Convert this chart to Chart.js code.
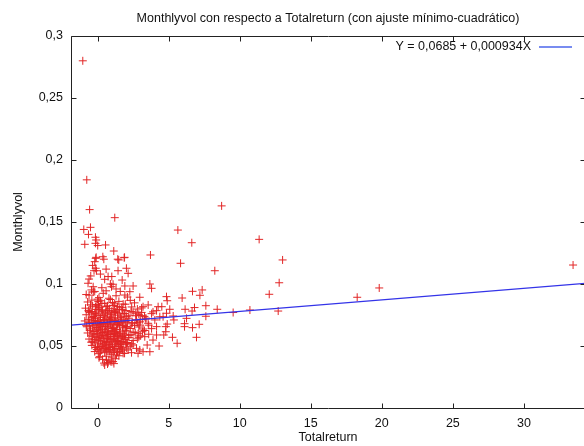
<!DOCTYPE html>
<html>
<head>
<meta charset="utf-8">
<script src="https://cdn.jsdelivr.net/npm/chart.js@4/dist/chart.umd.min.js"></script>
<style>
  html, body { margin: 0; padding: 0; background: #fff; overflow: hidden; }
  #wrap { width: 590px; height: 446px; }
</style>
</head>
<body>
<div id="wrap"><canvas id="chart" width="590" height="446"></canvas></div>
<script>
// Valores: Totalreturn (x) y Monthlyvol (y)
const totalreturn = [
  // puntos aislados
  -1.04, -0.76, -0.56, 1.21, -0.97, -0.5, -0.64, -0.15, -0.1, -0.9,
  -0.15, 0.01, 0.56, 1.14, -0.1, 0.37, 0.44, 1.42, 1.9, 3.72,
  5.65, 6.63, 8.73, 11.37, 5.84, 8.25, 13.02, 12.78, 12.08, 10.72,
  12.71, 18.27, 19.82, 33.46, 9.54, 8.42, 7.62, 7.62,
  // zona intermedia
  6.68, 7.36, 7.2, 5.95, 6.82, 6.65, 6.16, 7.15, 6.68, 6.12,
  6.12, 6.96, 5.27, 5.6, 4.85, 4.9, 5.08, 5.37, 4.9, 4.8,
  4.8, 4.66, 4.61, 4.52, 6.26, 4.85, 5.32, 4.33, 3.9, 4.15,
  3.68, 3.2, 2.97, 2.85, 3.49, 3.32, 3.16, 2.74, 2.69, 2.97,
  3.56, 4.03, 4.15, 4.38, 3.68, 3.8, 2.97, 3.56, 3.2, 4.26,
  4.15, 2.5, 1.92, 1.92, 2.27, 1.73, 2.03, 2.15, 1.44, 0.5,
  0.74, 1.09, 0.98, -0.67, -0.31, -0.43, -0.48, -0.13, -0.25, -0.08,
  -0.13, -0.2, 1.49, 1.87, 0.15, 0.63, 0.5, 0.74, 1.09, 1.33,
  1.8, 2.15, 2.39, 2.74, 2.5, 2.03,
  -0.35, 0.2, -0.6, 0.9, 0.3, -0.2, 1.3, 0.6, 1.0,
  3.0, 3.4, 3.9, 3.3, 3.8, 2.9, 3.6,
  // nube principal
  -0.6, -0.3, 0.1, 0.4, 0.8, 1.3, 1.6, 2.1, -0.8, 0.6,
  -0.7, -0.4, -0.1, 0.2, 0.5, 0.9, 1.2, 1.5, 1.8, 2.3, 2.6, 0.0,
  -0.85, -0.6, -0.35, -0.05, 0.15, 0.35, 0.6, 0.85, 1.1, 1.35, 1.7, 2.0, 2.4, 2.8, 3.1, 0.05, 1.0,
  -0.8, -0.55, -0.3, -0.1, 0.1, 0.3, 0.5, 0.7, 0.9, 1.15, 1.4, 1.65, 1.9, 2.2, 2.5, 2.9, 3.3, 3.8, 0.2, 1.0,
  -0.9, -0.65, -0.4, -0.2, 0.0, 0.2, 0.4, 0.6, 0.8, 1.0, 1.2, 1.45, 1.7, 1.95, 2.2, 2.45, 2.7, 3.0, 3.4, 0.3, 0.9, 1.6,
  -0.75, -0.5, -0.25, -0.05, 0.15, 0.35, 0.55, 0.75, 0.95, 1.15, 1.35, 1.55, 1.75, 2.0, 2.3, 2.6, 2.9, 3.2, 0.45, 1.05, 1.85,
  -0.7, -0.45, -0.2, 0.0, 0.2, 0.4, 0.6, 0.8, 1.0, 1.2, 1.4, 1.6, 1.8, 2.05, 2.35, 2.65, 3.0, 0.1, 0.7, 1.3,
  -0.6, -0.35, -0.1, 0.1, 0.3, 0.5, 0.7, 0.9, 1.1, 1.3, 1.5, 1.7, 1.95, 2.2, 2.5, 2.8, 0.6, 1.2,
  -0.4, -0.15, 0.05, 0.25, 0.45, 0.65, 0.85, 1.05, 1.25, 1.45, 1.7, 1.95, 2.3, 0.55, 1.5,
  -0.2, 0.05, 0.3, 0.5, 0.75, 0.95, 1.2, 1.4, 1.65, 1.9, 0.85,
  0.1, 0.35, 0.6, 0.8, 1.0, 1.25, 1.5,
  0.45, 0.7, 0.95, 1.15,
  -0.45, -0.2, 0.25, 0.55, 0.8, 1.25, 1.55, 1.8,
  -0.55, -0.3, -0.1, 0.1, 0.25, 0.5, 0.7, 0.85, 1.1, 1.3, 1.5, 1.75, 2.1,
  -0.35, -0.1, 0.05, 0.3, 0.5, 0.65, 0.9, 1.1, 1.25, 1.45, 1.65, 1.9,
  -0.25, 0.15, 0.35, 0.6, 0.75, 1.0, 1.15, 1.35, 1.6, 1.8,
  -0.5, -0.15, 0.3, 0.7, 1.05, 1.4, 1.95, 0.05,
  -0.65, -0.4, -0.15, 0.05, 0.4, 0.6, 0.95, 1.2, 1.5, 1.75, 2.05, 2.35, 2.7, 3.1,
  -0.8, -0.6, -0.35, -0.15, 0.05, 0.2, 0.45, 0.65, 0.9, 1.05, 1.25, 1.4, 1.65, 1.85, 2.05, 2.4, 2.8, 3.15, 3.6,
  -0.55, -0.3, -0.05, 0.15, 0.35, 0.55, 0.75, 0.95, 1.15, 1.35, 1.55, 1.75, 1.95, 2.2, 2.5, 2.85,
  -0.45, -0.2, 0.0, 0.2, 0.4, 0.6, 0.8, 1.0, 1.2, 1.4, 1.6, 1.85, 2.1, 2.4,
  -0.05, 0.2, 0.4, 0.65, 0.9, 1.1, 1.3, 1.55, 1.75, 2.05
];
const monthlyvol = [
  0.280, 0.184, 0.160, 0.1535, 0.144, 0.1457, 0.140, 0.1377, 0.1355, 0.132,
  0.1328, 0.131, 0.1315, 0.1266, 0.1215, 0.122, 0.120, 0.120, 0.1215, 0.1234,
  0.1435, 0.1333, 0.163, 0.136, 0.1167, 0.1107, 0.1194, 0.101, 0.0917, 0.079,
  0.0782, 0.0893, 0.0968, 0.1153, 0.077, 0.0796, 0.0825, 0.074,
  0.0941, 0.0952, 0.0909, 0.0887, 0.081, 0.0782, 0.0796, 0.0675, 0.0648, 0.068,
  0.0656, 0.057, 0.057, 0.0522, 0.0898, 0.0865, 0.0796, 0.071, 0.0677, 0.0656,
  0.0615, 0.0589, 0.0736, 0.0817, 0.0723, 0.0764, 0.0742, 0.05, 0.0548, 0.0589,
  0.0454, 0.0454, 0.0468, 0.0441, 0.0508, 0.0575, 0.0615, 0.071, 0.0764, 0.0669,
  0.0683, 0.071, 0.0656, 0.0736, 0.1, 0.0965, 0.0893, 0.0831, 0.0817, 0.0817,
  0.0785, 0.0984, 0.0984, 0.0911, 0.0938, 0.1032, 0.1127, 0.1086, 0.1107, 0.1038,
  0.106, 0.0998, 0.0978, 0.1006, 0.0978, 0.0952, 0.1065, 0.1127, 0.1107, 0.1107,
  0.1207, 0.118, 0.1194, 0.1212, 0.0414, 0.0387, 0.0347, 0.0366, 0.0374, 0.0427,
  0.0441, 0.0468, 0.0446, 0.0481, 0.0508, 0.0522,
  0.115, 0.108, 0.104, 0.1, 0.097, 0.094, 0.096, 0.112, 0.106,
  0.0745, 0.0725, 0.0775, 0.0625, 0.064, 0.057, 0.0595,
  0.091, 0.0935, 0.089, 0.0925, 0.0885, 0.0905, 0.094, 0.0895, 0.0915, 0.0945,
  0.0855, 0.087, 0.0835, 0.0865, 0.0845, 0.0875, 0.084, 0.086, 0.0838, 0.0868, 0.0848, 0.0878,
  0.0805, 0.0788, 0.0822, 0.0795, 0.0812, 0.0783, 0.0818, 0.0801, 0.0826, 0.0792, 0.0809, 0.0786, 0.0815, 0.0798, 0.0807, 0.0828, 0.0781,
  0.0752, 0.0771, 0.0738, 0.0765, 0.0745, 0.0776, 0.0733, 0.0758, 0.0741, 0.0769, 0.0749, 0.0735, 0.0762, 0.0744, 0.0773, 0.0755, 0.0739, 0.0761, 0.0731, 0.0757,
  0.0702, 0.0715, 0.0688, 0.0723, 0.0697, 0.0711, 0.0684, 0.0719, 0.0693, 0.0727, 0.0706, 0.0689, 0.0716, 0.0699, 0.0724, 0.0687, 0.0709, 0.0695, 0.0718, 0.0681, 0.0701, 0.0728,
  0.0655, 0.0638, 0.0667, 0.0649, 0.0672, 0.0635, 0.0661, 0.0644, 0.0676, 0.0652, 0.0632, 0.0669, 0.0647, 0.0658, 0.0641, 0.0666, 0.0653, 0.0637, 0.0678, 0.0646, 0.0663,
  0.0605, 0.0588, 0.0617, 0.0596, 0.0622, 0.0584, 0.0611, 0.0593, 0.0626, 0.0601, 0.0586, 0.0614, 0.0598, 0.0621, 0.0591, 0.0608, 0.0582, 0.0628, 0.0603, 0.0619,
  0.0556, 0.0538, 0.0567, 0.0545, 0.0572, 0.0533, 0.0561, 0.0549, 0.0576, 0.0541, 0.0564, 0.0536, 0.0553, 0.0569, 0.0544, 0.0558, 0.0531, 0.0578,
  0.0505, 0.0488, 0.0517, 0.0496, 0.0522, 0.0484, 0.0511, 0.0493, 0.0526, 0.0501, 0.0486, 0.0514, 0.0498, 0.0481, 0.0519,
  0.0455, 0.0438, 0.0467, 0.0446, 0.0472, 0.0434, 0.0461, 0.0449, 0.0476, 0.0441, 0.0458,
  0.0405, 0.0392, 0.0418, 0.0386, 0.0411, 0.0397, 0.0421,
  0.0362, 0.0355, 0.0371, 0.0358,
  0.0778, 0.0763, 0.0791, 0.0768, 0.0785, 0.0774, 0.0796, 0.0759,
  0.0686, 0.0703, 0.0671, 0.0694, 0.0659, 0.0707, 0.0677, 0.0713, 0.0668, 0.0698, 0.0683, 0.0663, 0.0691,
  0.0578, 0.0602, 0.0563, 0.0587, 0.0615, 0.0571, 0.0594, 0.0559, 0.0607, 0.0581, 0.0566, 0.0589,
  0.0527, 0.0478, 0.0508, 0.0532, 0.0491, 0.0515, 0.0474, 0.0536, 0.0495, 0.0529,
  0.0832, 0.0816, 0.0843, 0.0824, 0.0851, 0.0819, 0.0837, 0.0858,
  0.0784, 0.0729, 0.0752, 0.0797, 0.0748, 0.0789, 0.0727, 0.0782, 0.0766, 0.0793, 0.0737, 0.0779, 0.0744, 0.0771,
  0.0664, 0.0692, 0.0654, 0.0705, 0.0645, 0.0678, 0.0712, 0.0656, 0.0684, 0.0641, 0.0717, 0.0673, 0.0694, 0.0708, 0.0651, 0.0679, 0.0688, 0.0712, 0.0668,
  0.0624, 0.0597, 0.0631, 0.0574, 0.0609, 0.0636, 0.0579, 0.0618, 0.0592, 0.0633, 0.0603, 0.0576, 0.0627, 0.0586, 0.0613, 0.0599,
  0.0531, 0.0552, 0.0494, 0.0539, 0.0559, 0.0507, 0.0534, 0.0551, 0.0497, 0.0545, 0.0512, 0.0557, 0.0528, 0.0518,
  0.0471, 0.0452, 0.0484, 0.0459, 0.0487, 0.0447, 0.0479, 0.0456, 0.0468, 0.0483
];

// ajuste mínimo-cuadrático
const fitIntercept = 0.0685;
const fitSlope = 0.000934;

const xMin = -1.87, xMax = 34.3;
const yMin = 0, yMax = 0.3;
const xTicks = [0, 5, 10, 15, 20, 25, 30];
const yTicks = [0, 0.05, 0.1, 0.15, 0.2, 0.25, 0.3];

const chartTitle = 'Monthlyvol con respecto a Totalreturn (con ajuste mínimo-cuadrático)';
const fitLabel = 'Y = ' + String(fitIntercept).replace('.', ',') + ' + ' + String(fitSlope).replace('.', ',') + 'X';

const FONT = 'Liberation Sans, Arial, sans-serif';
const FONT_SIZE = 12.5;
const TEXT = '#111';
const comma = v => String(Math.round(v * 1000) / 1000).replace('.', ',');

const points = totalreturn.map((x, i) => ({ x: x, y: monthlyvol[i] }));
const fitLine = [xMin, xMax].map(x => ({ x: x, y: fitIntercept + fitSlope * x }));

// marco con marcas hacia dentro, título y leyenda al estilo gnuplot
const gnuplotFrame = {
  id: 'gnuplotFrame',
  afterDraw(chart) {
    const { ctx, chartArea: a, scales } = chart;
    const L = Math.round(a.left) + 0.5, R = Math.round(a.right) + 0.5;
    const T = Math.round(a.top) + 0.5, B = Math.round(a.bottom) + 0.5;
    ctx.save();
    ctx.strokeStyle = '#222';
    ctx.lineWidth = 1;
    ctx.beginPath();
    ctx.rect(L, T, R - L, B - T);
    for (const t of scales.x.ticks) {
      const px = Math.round(scales.x.getPixelForValue(t.value)) + 0.5;
      ctx.moveTo(px, B); ctx.lineTo(px, B - 5);
      ctx.moveTo(px, T); ctx.lineTo(px, T + 5);
    }
    for (const t of scales.y.ticks) {
      const py = Math.round(scales.y.getPixelForValue(t.value)) + 0.5;
      ctx.moveTo(L, py); ctx.lineTo(L + 5, py);
      ctx.moveTo(R, py); ctx.lineTo(R - 5, py);
    }
    ctx.stroke();

    ctx.fillStyle = TEXT;
    ctx.font = FONT_SIZE + 'px ' + FONT;
    ctx.textBaseline = 'middle';
    ctx.textAlign = 'center';
    ctx.fillText(chartTitle, (a.left + a.right) / 2, 19);

    ctx.textAlign = 'right';
    ctx.fillText(fitLabel, 531, 47);
    ctx.beginPath();
    ctx.strokeStyle = 'rgb(120, 140, 240)';
    ctx.lineWidth = 2;
    ctx.moveTo(539, 47); ctx.lineTo(572, 47);
    ctx.stroke();
    ctx.restore();
  }
};

new Chart(document.getElementById('chart'), {
  type: 'scatter',
  data: {
    datasets: [
      {
        label: 'Monthlyvol',
        data: points,
        pointStyle: 'cross',
        pointRadius: 4,
        borderWidth: 1,
        borderColor: 'rgb(226, 38, 38)',
        backgroundColor: 'rgb(226, 38, 38)',
        order: 2
      },
      {
        type: 'line',
        label: fitLabel,
        data: fitLine,
        borderColor: 'rgb(52, 52, 232)',
        borderWidth: 1.2,
        pointRadius: 0,
        fill: false,
        order: 1
      }
    ]
  },
  options: {
    responsive: false,
    animation: false,
    layout: { padding: { left: 0, right: 5, top: 36, bottom: 0 } },
    plugins: {
      legend: { display: false },
      title: { display: false },
      tooltip: { enabled: false }
    },
    scales: {
      x: {
        type: 'linear',
        min: xMin,
        max: xMax,
        afterBuildTicks: s => { s.ticks = xTicks.map(v => ({ value: v })); },
        afterFit: s => { s.height = 38; },
        grid: { display: false, drawTicks: false },
        border: { display: false },
        ticks: { padding: 8, color: TEXT, font: { family: FONT, size: FONT_SIZE }, callback: v => comma(v) },
        title: { display: true, text: 'Totalreturn', color: TEXT, font: { family: FONT, size: FONT_SIZE }, padding: { top: 0, bottom: 1 } }
      },
      y: {
        min: yMin,
        max: yMax,
        afterBuildTicks: s => { s.ticks = yTicks.map(v => ({ value: v })); },
        afterFit: s => { s.width = 71; },
        grid: { display: false, drawTicks: false },
        border: { display: false },
        ticks: { padding: 8, color: TEXT, font: { family: FONT, size: FONT_SIZE }, callback: v => comma(v) },
        title: { display: true, text: 'Monthlyvol', color: TEXT, font: { family: FONT, size: FONT_SIZE }, padding: { top: 11, bottom: 0 } }
      }
    }
  },
  plugins: [gnuplotFrame]
});
</script>
</body>
</html>
